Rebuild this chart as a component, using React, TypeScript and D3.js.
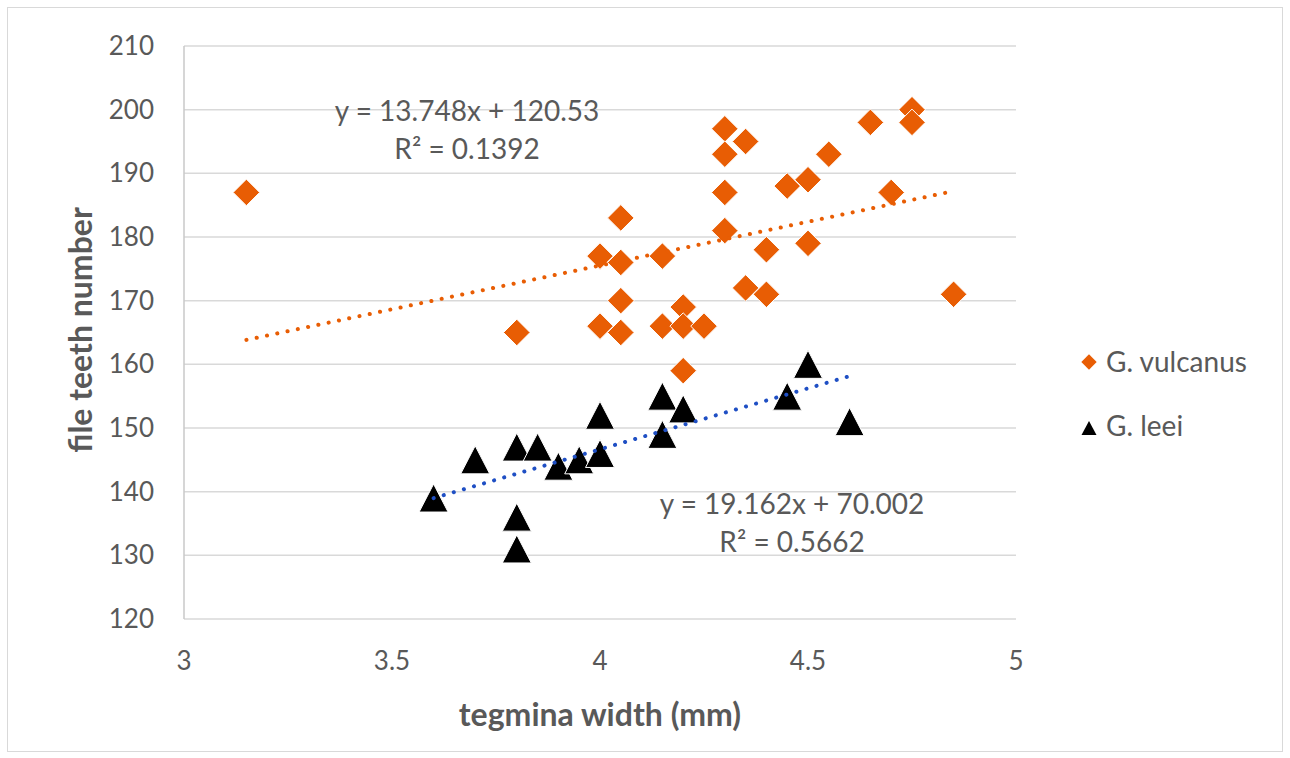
import * as d3 from "d3";
import { useEffect, useRef } from "react";

// G. vulcanus (orange diamonds)
const vulcanusX = [3.15, 3.8, 4.0, 4.0, 4.05, 4.05, 4.05, 4.05, 4.15, 4.15, 4.2, 4.2, 4.2, 4.25, 4.3, 4.3, 4.3, 4.3, 4.35, 4.35, 4.4, 4.4, 4.45, 4.5, 4.5, 4.55, 4.65, 4.7, 4.75, 4.75, 4.85];
const vulcanusY = [187, 165, 177, 166, 183, 176, 170, 165, 177, 166, 169, 166, 159, 166, 197, 193, 187, 181, 195, 172, 178, 171, 188, 189, 179, 193, 198, 187, 200, 198, 171];

// G. leei (black triangles)
const leeiX = [3.6, 3.7, 3.8, 3.8, 3.8, 3.85, 3.9, 3.95, 4.0, 4.0, 4.15, 4.15, 4.2, 4.45, 4.5, 4.6];
const leeiY = [139, 145, 147, 136, 131, 147, 144, 145, 152, 146, 155, 149, 153, 155, 160, 151];

const xTicks = [3, 3.5, 4, 4.5, 5];
const yTicks = [120, 130, 140, 150, 160, 170, 180, 190, 200, 210];

const trendVulcanus = { slope: "13.748", intercept: "120.53", r2: "0.1392", from: 3.15, to: 4.85 };
const trendLeei = { slope: "19.162", intercept: "70.002", r2: "0.5662", from: 3.6, to: 4.6 };

const W = 1290;
const H = 758;
const ORANGE = "#E85D04";
const BLUE = "#1F4FC4";
const TEXT = "#595959";
const FONT = "Lato, 'Open Sans', sans-serif";

// Excel-style triangle marker: roughly as wide as it is tall, centred on its box
const triPath = (w: number, h: number) => {
    const p = d3.path();
    p.moveTo(0, -h / 2);
    p.lineTo(w / 2, h / 2);
    p.lineTo(-w / 2, h / 2);
    p.closePath();
    return p.toString();
};

export default function App() {
    const svgRef = useRef<SVGSVGElement | null>(null);

    useEffect(() => {
        const svg = d3.select(svgRef.current);
        svg.selectAll("*").remove();

        const margin = { left: 184, right: 1016, top: 46, bottom: 619 };

        const x = d3.scaleLinear().domain([3, 5]).range([margin.left, margin.right]);
        const y = d3.scaleLinear().domain([120, 210]).range([margin.bottom, margin.top]);

        // outer frame
        svg.append("rect")
            .attr("x", 7.5).attr("y", 7.5)
            .attr("width", W - 15).attr("height", H - 14)
            .attr("fill", "white")
            .attr("stroke", "#D9D9D9");

        // gridlines
        svg.append("g")
            .selectAll("line")
            .data(yTicks)
            .join("line")
            .attr("x1", margin.left).attr("x2", margin.right)
            .attr("y1", (d) => y(d)).attr("y2", (d) => y(d))
            .attr("stroke", "#D9D9D9")
            .attr("stroke-width", 1.5);

        // left axis line
        svg.append("line")
            .attr("x1", margin.left).attr("x2", margin.left)
            .attr("y1", margin.top).attr("y2", margin.bottom)
            .attr("stroke", "#C8C8C8")
            .attr("stroke-width", 1.5);

        // tick labels
        svg.append("g")
            .selectAll("text")
            .data(yTicks)
            .join("text")
            .attr("x", 154)
            .attr("y", (d) => y(d) + 9)
            .attr("text-anchor", "end")
            .attr("fill", TEXT)
            .style("font-family", FONT)
            .style("font-size", "26px")
            .text((d) => d);

        svg.append("g")
            .selectAll("text")
            .data(xTicks)
            .join("text")
            .attr("x", (d) => x(d))
            .attr("y", 670)
            .attr("text-anchor", "middle")
            .attr("fill", TEXT)
            .style("font-family", FONT)
            .style("font-size", "26px")
            .text((d) => d);

        // axis titles
        svg.append("text")
            .attr("x", 600).attr("y", 726)
            .attr("text-anchor", "middle")
            .attr("fill", TEXT)
            .style("font-family", FONT)
            .style("font-size", "32px")
            .style("font-weight", "bold")
            .text("tegmina width (mm)");

        svg.append("text")
            .attr("transform", `translate(92,330) rotate(-90)`)
            .attr("text-anchor", "middle")
            .attr("fill", TEXT)
            .style("font-family", FONT)
            .style("font-size", "32px")
            .style("font-weight", "bold")
            .text("file teeth number");

        const vulcanus = vulcanusX.map((v, i) => ({ x: v, y: vulcanusY[i] }));
        const leei = leeiX.map((v, i) => ({ x: v, y: leeiY[i] }));

        const diamond = d3.symbol().type(d3.symbolDiamond2).size(450)();
        const triangle = triPath(29, 28);

        svg.append("g")
            .selectAll("path")
            .data(vulcanus)
            .join("path")
            .attr("d", diamond)
            .attr("transform", (d) => `translate(${x(d.x)},${y(d.y)})`)
            .attr("fill", ORANGE)
            .attr("stroke", "white")
            .attr("stroke-width", 1);

        svg.append("g")
            .selectAll("path")
            .data(leei)
            .join("path")
            .attr("d", triangle)
            .attr("transform", (d) => `translate(${x(d.x)},${y(d.y)})`)
            .attr("fill", "black")
            .attr("stroke", "white")
            .attr("stroke-width", 1);

        // trendlines (dotted)
        const drawTrend = (t: typeof trendVulcanus, color: string) => {
            const f = (v: number) => +t.slope * v + +t.intercept;
            svg.append("line")
                .attr("x1", x(t.from)).attr("y1", y(f(t.from)))
                .attr("x2", x(t.to)).attr("y2", y(f(t.to)))
                .attr("stroke", color)
                .attr("stroke-width", 4)
                .attr("stroke-linecap", "round")
                .attr("stroke-dasharray", "0.1 10.4");
        };
        drawTrend(trendVulcanus, ORANGE);
        drawTrend(trendLeei, BLUE);

        // equation labels
        const eq = (t: typeof trendVulcanus, cx: number, cy: number) => {
            const g = svg.append("g")
                .attr("fill", TEXT)
                .style("font-family", FONT)
                .style("font-size", "28px")
                .attr("text-anchor", "middle");
            g.append("text").attr("x", cx).attr("y", cy).text(`y = ${t.slope}x + ${t.intercept}`);
            g.append("text").attr("x", cx).attr("y", cy + 38).text(`R² = ${t.r2}`);
        };
        eq(trendVulcanus, 467, 121);
        eq(trendLeei, 792, 514);

        // legend
        const legend = svg.append("g").style("font-family", FONT).style("font-size", "28px").attr("fill", TEXT);
        legend.append("path")
            .attr("d", d3.symbol().type(d3.symbolDiamond2).size(150)())
            .attr("transform", "translate(1089,362)")
            .attr("fill", ORANGE);
        legend.append("text").attr("x", 1106).attr("y", 372).text("G. vulcanus");
        legend.append("path")
            .attr("d", triPath(15, 14))
            .attr("transform", "translate(1089,428)")
            .attr("fill", "black");
        legend.append("text").attr("x", 1106).attr("y", 436).text("G. leei");
    }, []);

    return (
        <svg
            ref={svgRef}
            width={W}
            height={H}
            style={{ position: "absolute", left: 0, top: 0, display: "block" }}
        ></svg>
    );
}
